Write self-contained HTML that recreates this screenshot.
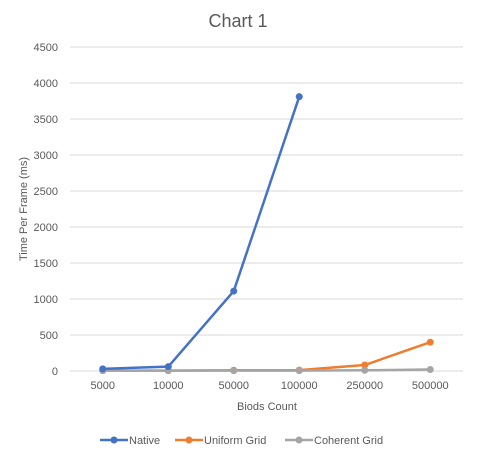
<!DOCTYPE html>
<html><head><meta charset="utf-8"><style>
body{margin:0;background:#fff;font-family:"Liberation Sans",sans-serif}
</style></head><body>
<svg id="c" width="477" height="460" xmlns="http://www.w3.org/2000/svg" font-family="Liberation Sans, sans-serif">
<text x="238" y="27" font-size="18" fill="#595959" text-anchor="middle">Chart 1</text>
<text x="385" y="0" font-size="11" fill="#595959" text-anchor="middle" transform="translate(27,209) rotate(-90) translate(-385,0)">Time Per Frame (ms)</text>
<text x="267" y="410" font-size="11" fill="#595959" text-anchor="middle">Biods Count</text>
<g id="grid"></g><g id="series"></g><g id="legend"></g>
</svg>
<script>
const categories=["5000","10000","50000","100000","250000","500000"];
const yTicks=[0,500,1000,1500,2000,2500,3000,3500,4000,4500];
const nativeVals=[30,60,1110,3810,null,null];
const uniformVals=[5,5,10,12,83,400];
const coherentVals=[5,5,5,5,10,20];
const seriesNames=["Native","Uniform Grid","Coherent Grid"];
const NS="http://www.w3.org/2000/svg";
const L=70,R=463,T=47,B=371,YMAX=4500;
const cw=(R-L)/categories.length;
const xs=i=>L+cw*(i+0.5);
const ys=v=>B-(v/YMAX)*(B-T);
function mk(t,a,p){const e=document.createElementNS(NS,t);for(const k in a)e.setAttribute(k,a[k]);p.appendChild(e);return e;}
const grid=document.getElementById('grid');
yTicks.forEach(v=>{
 const l=mk('line',{x1:L,x2:R,y1:ys(v),y2:ys(v),stroke:'#d9d9d9','stroke-width':1},grid);
 
 
 const t=mk('text',{x:L-12,y:ys(v)+4,'font-size':11,fill:'#595959','text-anchor':'end'},grid);
 t.textContent=v;
 
 
});
categories.forEach((c,i)=>{
 const t=mk('text',{x:xs(i),y:389,'font-size':11,fill:'#595959','text-anchor':'middle'},grid);
 t.textContent=c;
 
 
});
const sg=document.getElementById('series');
const data=[nativeVals,uniformVals,coherentVals];
const colors=["#4472c4","#ed7d31","#a5a5a5"];
[1,2,0].forEach(s=>{
 const vals=data[s];
 const g=mk('g',{},sg);
 
 
 let pts=[];vals.forEach((v,i)=>{if(v!=null)pts.push([xs(i),ys(v)]);});
 const pl=mk('polyline',{points:pts.map(p=>p.join(',')).join(' '),fill:'none',stroke:colors[s],'stroke-width':2.5,'stroke-linejoin':'round'},g);
 
 
 pts.forEach(p=>{const c=mk('circle',{cx:p[0],cy:p[1],r:3.5,fill:colors[s]},g);
 
 });
});
const lg=document.getElementById('legend');
const lx=[100,175,285];
seriesNames.forEach((n,i)=>{
 const g=mk('g',{},lg);
 
 
 mk('line',{x1:lx[i],x2:lx[i]+28,y1:440,y2:440,stroke:colors[i],'stroke-width':2.5},g);
 mk('circle',{cx:lx[i]+14,cy:440,r:3.5,fill:colors[i]},g);
 const t=mk('text',{x:lx[i]+29,y:444,'font-size':11,fill:'#595959'},g);
 t.textContent=n;
});
</script>
</body></html>
